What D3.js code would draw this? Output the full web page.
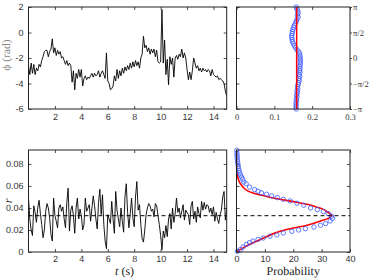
<!DOCTYPE html>
<html><head><meta charset="utf-8">
<script src="https://cdn.jsdelivr.net/npm/d3@7"></script>
<style>body{margin:0;background:#fff}svg{display:block}text{text-rendering:geometricPrecision}</style>
</head><body><svg id="c" width="371" height="278"></svg>
<script>
// ---------- data ----------
const sampleStep = 0.1; // seconds between samples
const phaseSeries = [-2.6,-3.3,-2.4,-3.2,-2.5,-3.3,-2.8,-3.0,-2.5,-2.7,-2.2,-1.9,-1.5,-1.4,-1.4,-1.9,-1.5,-1.3,-0.5,-1.6,
-1.2,-1.8,-1.4,-1.7,-1.5,-2.0,-1.9,-2.2,-2.5,-2.2,-2.6,-2.4,-2.6,-3.9,-3.0,-4.5,-3.2,-3.6,-2.9,-3.5,
-2.9,-4.2,-3.6,-3.4,-3.7,-3.5,-3.6,-3.4,-3.2,-3.5,-3.2,-3.4,-3.3,-3.0,-3.5,-3.2,-3.0,-3.3,-3.6,-1.6,
-3.8,-4.0,-4.5,-4.4,-4.2,-3.4,-3.8,-2.9,-3.6,-3.0,-3.4,-2.8,-3.2,-2.7,-3.0,-2.6,-2.9,-2.4,-2.8,-2.3,
-2.7,-2.2,-2.6,-2.3,-2.8,-2.0,-1.7,-0.3,-1.2,-1.0,-1.5,-1.2,-1.7,-1.3,-1.6,-1.3,-1.9,-1.4,-2.3,-2.4,
-2.3,1.8,-2.4,-0.6,-3.3,-2.1,-4.1,-1.9,-2.5,-2.0,-3.5,-2.0,-1.8,-2.1,-1.7,-1.9,-1.3,-2.0,-1.6,-2.0,
-2.9,-3.7,-3.1,-3.7,-3.0,-2.0,-2.4,-2.8,-2.6,-3.0,-2.8,-3.1,-2.8,-3.0,-2.9,-3.1,-2.9,-3.0,-3.4,-2.9,
-3.3,-3.4,-3.5,-3.4,-3.7,-3.6,-3.7,-3.8,-4.0,-4.6,-5.0];
const rSeries = [0.049,0.030,0.020,0.015,0.042,0.036,0.027,0.040,0.047,0.035,0.025,0.013,0.020,0.037,0.044,0.040,0.031,0.016,0.010,0.049,
0.033,0.028,0.022,0.040,0.043,0.037,0.041,0.030,0.022,0.045,0.058,0.019,0.038,0.042,0.033,0.017,0.040,0.049,0.030,0.039,
0.033,0.020,0.025,0.049,0.037,0.040,0.043,0.028,0.040,0.051,0.042,0.030,0.021,0.045,0.057,0.034,0.052,0.025,0.010,0.003,
0.034,0.030,0.026,0.046,0.030,0.017,0.055,0.038,0.030,0.023,0.040,0.028,0.018,0.050,0.062,0.036,0.022,0.035,0.049,0.031,
0.023,0.050,0.064,0.038,0.043,0.025,0.012,0.009,0.020,0.034,0.040,0.044,0.042,0.037,0.039,0.032,0.044,0.042,0.033,0.025,
0.015,0.002,0.019,0.013,0.024,0.014,0.030,0.035,0.021,0.040,0.027,0.035,0.049,0.036,0.040,0.031,0.037,0.043,0.029,0.038,
0.036,0.034,0.025,0.042,0.046,0.030,0.037,0.027,0.041,0.035,0.031,0.046,0.038,0.045,0.039,0.043,0.042,0.036,0.040,0.034,
0.041,0.028,0.036,0.030,0.026,0.034,0.038,0.050,0.055,0.029,0.039];
const rMean = 0.033;

// phase histogram (angles in units of pi, top to bottom)
const phaseAnglesPi = [1,0.96,0.92,0.88,0.84,0.8,0.76,0.72,0.68,0.64,0.6,0.56,0.52,0.48,0.44,0.4,0.36,0.32,0.28,0.24,
0.2,0.16,0.12,0.08,0.04,0,-0.04,-0.08,-0.12,-0.16,-0.2,-0.24,-0.28,-0.32,-0.36,-0.4,-0.44,-0.48,-0.52,-0.56,
-0.6,-0.64,-0.68,-0.72,-0.76,-0.8,-0.84,-0.88,-0.92,-0.96,-1];
const phaseProb = [0.158,0.160,0.162,0.163,0.161,0.163,0.160,0.158,0.156,0.153,0.151,0.149,0.148,0.147,0.146,0.146,0.147,0.148,0.150,0.153,
0.156,0.160,0.165,0.167,0.168,0.168,0.169,0.168,0.169,0.167,0.168,0.167,0.168,0.166,0.167,0.165,0.166,0.164,0.163,0.161,
0.162,0.160,0.161,0.159,0.160,0.158,0.159,0.157,0.158,0.157,0.158];
const phaseUniform = 0.159; // 1/(2π)

// r histogram
const rBinR = [0.0925,0.090,0.088,0.086,0.084,0.082,0.080,0.078,0.076,0.074,0.072,0.070,0.068,0.066,0.0636,0.062,0.059,0.0567,0.0552,0.0537,
0.0525,0.051,0.0494,0.0479,0.0464,0.0443,0.0425,0.040,0.0385,0.0367,0.0349,0.0325,0.0306,0.0282,0.0258,0.0243,0.0227,0.0212,0.020,0.0188,
0.0173,0.0155,0.0143,0.0127,0.0115,0.010,0.0085,0.007,0.0045,0.0022,0.0006];
const rBinP = [0.1,0.15,0.2,0.25,0.3,0.4,0.5,0.6,0.7,0.9,1.1,1.4,1.8,2.2,2.6,3.4,4.6,6.4,7.6,8.8,
10.6,12.4,14.4,16.5,18.9,21.3,23.7,26.1,28.5,30.6,32.3,33.5,33.8,33.0,31.4,29.6,27.3,24.3,21.9,19.5,
16.5,14.2,11.8,9.4,7.6,5.8,4.6,3.5,2.3,1.4,0.3];
const rFitR = [0,0.004,0.008,0.012,0.0167,0.02,0.0243,0.028,0.0318,0.0335,0.0355,0.0385,0.041,0.0434,0.046,0.049,0.0515,0.0536,0.056,0.059,0.062,0.065,0.07,0.08,0.0925];
const rFitP = [0,2.5,5.5,9,13,17,24.9,29.5,33.2,33.6,32.5,30.8,28,24.9,19.5,13,9,5.8,3.6,2.3,1.4,0.8,0.3,0.05,0];

const tTicks = [2,4,6,8,10,12,14];
const phiTicks = [2,0,-2,-4,-6];
const rTicks = [0,0.02,0.04,0.06,0.08];
const phaseProbTicks = [0,0.1,0.2,0.3];
const phaseAngleTicks = [1,0.5,0,-0.5,-1];
const phaseAngleLabels = ["π","π/2","0","−π/2","−π"];
const probTicks = [0,10,20,30,40];

// ---------- layout ----------
const svg = d3.select("#c");
const L = {x0:28.5, x1:226.7}, R = {x0:236.5, x1:350};
const T = {y0:7, y1:109}, B = {y0:150, y1:252};
const sans = "Liberation Sans, Arial, Helvetica, sans-serif";
const serif = "Liberation Serif, Times New Roman, serif";
const axCol = "#222", txtCol = "#333";

const xT = d3.scaleLinear().domain([0,15]).range([L.x0,L.x1]);
const yPhi = d3.scaleLinear().domain([-6,2]).range([T.y1,T.y0]);
const yR = d3.scaleLinear().domain([0,0.0927]).range([B.y1,B.y0]);
const xPP = d3.scaleLinear().domain([0,0.3]).range([R.x0,R.x1]);
const yAng = d3.scaleLinear().domain([-Math.PI,Math.PI]).range([T.y1,T.y0]);
const xProb = d3.scaleLinear().domain([0,40]).range([R.x0,R.x1]);

function styleAxis(g, font, size, showText=true){
  g.select(".domain").remove();
  g.selectAll("line").attr("stroke",axCol).attr("stroke-width",0.8);
  g.selectAll("text").attr("font-family",font).attr("font-size",size).attr("fill",txtCol);
  if(!showText) g.selectAll("text").remove();
}
function box(p, q){
  svg.append("rect").attr("x",p.x0).attr("y",q.y0).attr("width",p.x1-p.x0).attr("height",q.y1-q.y0)
    .attr("fill","none").attr("stroke",axCol).attr("stroke-width",1);
}
function clip(n,p,q){
  svg.append("clipPath").attr("id","clip"+n).append("rect")
    .attr("x",p.x0).attr("y",q.y0).attr("width",p.x1-p.x0).attr("height",q.y1-q.y0);
}

// ---------- top-left: phase vs time ----------
clip(1,L,T);
svg.append("g").attr("transform",`translate(0,${T.y1})`)
  .call(d3.axisBottom(xT).tickValues(tTicks).tickSize(-3).tickPadding(5).tickFormat(d3.format("d")))
  .call(g=>styleAxis(g,sans,9));
svg.append("g").attr("transform",`translate(0,${T.y0})`)
  .call(d3.axisTop(xT).tickValues(tTicks).tickSize(-3))
  .call(g=>styleAxis(g,sans,9,false));
svg.append("g").attr("transform",`translate(${L.x0},0)`)
  .call(d3.axisLeft(yPhi).tickValues(phiTicks).tickSize(-3).tickPadding(5).tickFormat(d=>String(d)))
  .call(g=>styleAxis(g,sans,9));
svg.append("g").attr("transform",`translate(${L.x1},0)`)
  .call(d3.axisRight(yPhi).tickValues(phiTicks).tickSize(-3))
  .call(g=>styleAxis(g,sans,9,false));
svg.append("path").datum(phaseSeries).attr("clip-path","url(#clip1)")
  .attr("d",d3.line().x((d,i)=>xT(i*sampleStep)).y(d=>yPhi(d)))
  .attr("fill","none").attr("stroke","#000").attr("stroke-width",0.9).attr("stroke-linejoin","round");
box(L,T);
svg.append("text").attr("transform",`translate(10,${(T.y0+T.y1)/2-3}) rotate(-90)`)
  .attr("text-anchor","middle").attr("font-family",serif).attr("font-size",11.5).attr("fill","#888")
  .text("ϕ (rad)");

// ---------- top-right: phase histogram ----------
svg.append("g").attr("transform",`translate(0,${T.y1})`)
  .call(d3.axisBottom(xPP).tickValues(phaseProbTicks).tickSize(-3).tickPadding(5).tickFormat(d=>d===0?"0":String(d)))
  .call(g=>styleAxis(g,serif,8.5));
svg.append("g").attr("transform",`translate(0,${T.y0})`)
  .call(d3.axisTop(xPP).tickValues(phaseProbTicks).tickSize(-3))
  .call(g=>styleAxis(g,serif,8.5,false));
svg.append("g").attr("transform",`translate(${R.x1},0)`)
  .call(d3.axisRight(yAng).tickValues(phaseAngleTicks.map(d=>d*Math.PI)).tickSize(2).tickPadding(1)
    .tickFormat((d,i)=>phaseAngleLabels[i]))
  .call(g=>styleAxis(g,serif,8.5))
  .call(g=>g.selectAll("text").attr("fill","#333").attr("transform","rotate(0.01)"));
svg.append("g").attr("transform",`translate(${R.x0},0)`)
  .call(d3.axisLeft(yAng).tickValues(phaseAngleTicks.map(d=>d*Math.PI)).tickSize(-3))
  .call(g=>styleAxis(g,serif,8.5,false));
svg.append("g").selectAll("circle").data(phaseAnglesPi).join("circle")
  .attr("cx",(d,i)=>xPP(phaseProb[i])).attr("cy",d=>yAng(d*Math.PI)).attr("r",2.2)
  .attr("fill","none").attr("stroke","#3a5cff").attr("stroke-width",0.8);
svg.append("line").attr("x1",xPP(phaseUniform)).attr("x2",xPP(phaseUniform))
  .attr("y1",yAng(-Math.PI)).attr("y2",yAng(Math.PI)).attr("stroke","#ff0000").attr("stroke-width",1.5);
box(R,T);

// ---------- bottom-left: r vs time ----------
clip(2,L,B);
svg.append("g").attr("transform",`translate(0,${B.y1})`)
  .call(d3.axisBottom(xT).tickValues(tTicks).tickSize(-3).tickPadding(4).tickFormat(d3.format("d")))
  .call(g=>styleAxis(g,sans,9));
svg.append("g").attr("transform",`translate(0,${B.y0})`)
  .call(d3.axisTop(xT).tickValues(tTicks).tickSize(-3))
  .call(g=>styleAxis(g,sans,9,false));
svg.append("g").attr("transform",`translate(${L.x0},0)`)
  .call(d3.axisLeft(yR).tickValues(rTicks).tickSize(-3).tickPadding(5).tickFormat(d=>d===0?"0":d3.format(".2f")(d)))
  .call(g=>styleAxis(g,sans,9));
svg.append("g").attr("transform",`translate(${L.x1},0)`)
  .call(d3.axisRight(yR).tickValues(rTicks).tickSize(-3))
  .call(g=>styleAxis(g,sans,9,false));
svg.append("path").datum(rSeries).attr("clip-path","url(#clip2)")
  .attr("d",d3.line().x((d,i)=>xT(i*sampleStep)).y(d=>yR(d)))
  .attr("fill","none").attr("stroke","#000").attr("stroke-width",0.9).attr("stroke-linejoin","round");
svg.append("line").attr("x1",L.x0).attr("x2",L.x1).attr("y1",yR(rMean)).attr("y2",yR(rMean))
  .attr("stroke","#000").attr("stroke-width",1).attr("stroke-dasharray","4,3");
box(L,B);
svg.append("text").attr("transform",`translate(12,${(B.y0+B.y1)/2}) rotate(-90)`)
  .attr("text-anchor","middle").attr("font-family",serif).attr("font-style","italic").attr("font-size",12).attr("fill","#222")
  .text("r");
const tl = svg.append("text").attr("x",(L.x0+L.x1)/2-3).attr("y",274.5).attr("text-anchor","middle")
  .attr("font-family",serif).attr("font-size",12).attr("fill","#222");
tl.append("tspan").attr("font-style","italic").text("t");
tl.append("tspan").text(" (s)");

// ---------- bottom-right: r histogram ----------
clip(3,R,B);
svg.append("g").attr("transform",`translate(0,${B.y1})`)
  .call(d3.axisBottom(xProb).tickValues(probTicks).tickSize(-3).tickPadding(4))
  .call(g=>styleAxis(g,sans,9));
svg.append("g").attr("transform",`translate(0,${B.y0})`)
  .call(d3.axisTop(xProb).tickValues(probTicks).tickSize(-3))
  .call(g=>styleAxis(g,sans,9,false));
svg.append("g").attr("transform",`translate(${R.x1},0)`)
  .call(d3.axisRight(yR).tickValues(rTicks).tickSize(-3))
  .call(g=>styleAxis(g,sans,9,false));
svg.append("g").attr("transform",`translate(${R.x0},0)`)
  .call(d3.axisLeft(yR).tickValues(rTicks).tickSize(-3))
  .call(g=>styleAxis(g,sans,9,false));
svg.append("path").datum(rFitR).attr("clip-path","url(#clip3)")
  .attr("d",d3.line().curve(d3.curveMonotoneY).x((d,i)=>xProb(rFitP[i])).y(d=>yR(d)))
  .attr("fill","none").attr("stroke","#ff0000").attr("stroke-width",1.6);
svg.append("g").selectAll("circle").data(rBinR).join("circle")
  .attr("cx",(d,i)=>xProb(rBinP[i])).attr("cy",d=>yR(d)).attr("r",2.2)
  .attr("fill","none").attr("stroke","#3a5cff").attr("stroke-width",0.8);
svg.append("line").attr("x1",R.x0).attr("x2",R.x1).attr("y1",yR(rMean)).attr("y2",yR(rMean))
  .attr("stroke","#000").attr("stroke-width",1).attr("stroke-dasharray","4,3");
box(R,B);
svg.append("text").attr("x",(R.x0+R.x1)/2).attr("y",274.5).attr("text-anchor","middle")
  .attr("font-family",serif).attr("font-size",12).attr("fill","#222").text("Probability");
</script></body></html>
